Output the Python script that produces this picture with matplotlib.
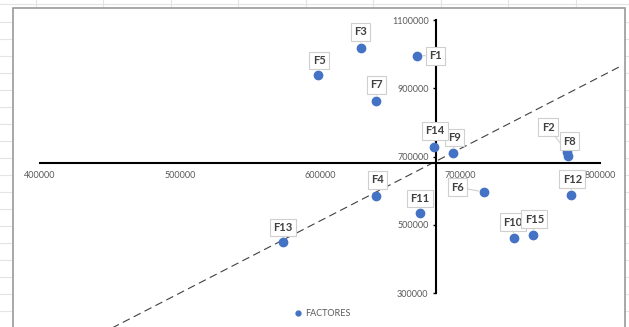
import matplotlib.pyplot as plt
from matplotlib.lines import Line2D
from matplotlib.patches import Rectangle
from matplotlib.ticker import FormatStrFormatter

plt.rcParams['font.family'] = ['Lato', 'DejaVu Sans']

# factor coordinates
factores = ['F1', 'F2', 'F3', 'F4', 'F5', 'F6', 'F7', 'F8',
            'F9', 'F10', 'F11', 'F12', 'F13', 'F14', 'F15']
x_vals = [669500, 776500, 629000, 640200, 598600, 717400, 640200, 777400,
          695200, 738600, 671200, 779500, 573300, 681600, 752400]
y_vals = [995500, 713500, 1018900, 585500, 938000, 596300, 863700, 701800,
          709700, 461600, 534000, 587600, 449000, 729000, 470400]

# where the two axes cross
x_cross = 683000
y_cross = 681000

# dashed reference line
line_x = [440000, 815000]
line_y = [174400, 965300]

# label offsets (pixels) from each point
offsets = {'F1': (18, 0), 'F2': (-19, 25), 'F3': (0, 16), 'F4': (1, 16),
           'F5': (1, 15), 'F6': (-27, 5), 'F7': (0, 16), 'F8': (1, 15),
           'F9': (1, 16), 'F10': (-1, 16), 'F11': (0, 15), 'F12': (1, 16),
           'F13': (0, 15), 'F14': (1, 16), 'F15': (1, 16)}

W, H = 629, 327
fig = plt.figure(figsize=(W / 100, H / 100), dpi=100)

# sheet grid behind the chart
grid_kw = dict(color='#e4e4e4', lw=0.8, zorder=-2)
for gx in [36, 103, 171, 238, 306, 373, 441, 508, 576]:
    fig.add_artist(Line2D([gx / W, gx / W], [1 - 8 / H, 1], **grid_kw))
fig.add_artist(Line2D([0, 1], [1 - 4 / H, 1 - 4 / H], **grid_kw))
for gy in range(22, 330, 17):
    fig.add_artist(Line2D([0, 13 / W], [1 - gy / H, 1 - gy / H], **grid_kw))
    fig.add_artist(Line2D([625 / W, 1], [1 - gy / H, 1 - gy / H], **grid_kw))

# chart area
fig.add_artist(Rectangle((13 / W, -0.05), (625 - 13) / W, 1.05 - 8 / H,
                         transform=fig.transFigure, fc='white', ec='#9a9a9a',
                         lw=1.2, zorder=-1))

ax = fig.add_axes([40 / W, (H - 293.3) / H, 560 / W, 273.3 / H])
ax.set_facecolor('none')
ax.set_xlim(400000, 800000)
ax.set_ylim(300000, 1100000)

for s in ['top', 'right']:
    ax.spines[s].set_visible(False)
ax.spines['left'].set_position(('data', x_cross))
ax.spines['bottom'].set_position(('data', y_cross))
for s in ['left', 'bottom']:
    ax.spines[s].set_color('black')
    ax.spines[s].set_linewidth(1.5)

ax.set_xticks(range(400000, 800001, 100000))
ax.set_yticks(range(300000, 1100001, 200000))
ax.xaxis.set_major_formatter(FormatStrFormatter('%d'))
ax.yaxis.set_major_formatter(FormatStrFormatter('%d'))
ax.tick_params(axis='x', length=0, pad=6, labelsize=6.5, labelcolor='#595959')
ax.tick_params(axis='y', length=2.5, width=1, pad=3, labelsize=6.5, labelcolor='#595959')

ax.plot(line_x, line_y, ls=(0, (7, 4)), color='#404040', lw=0.8, clip_on=False, zorder=2)

ax.scatter(x_vals, y_vals, s=36, color='#4472C4', zorder=3, clip_on=False)

for name, x, y in zip(factores, x_vals, y_vals):
    dx, dy = offsets[name]
    ax.annotate(name, (x, y), xytext=(dx, dy), textcoords='offset pixels',
                ha='center', va='center', fontsize=8, fontweight='bold',
                color='#404040', zorder=4,
                bbox=dict(boxstyle='square,pad=0.3', fc='white', ec='#cfcfcf', lw=0.8),
                arrowprops=dict(arrowstyle='-', color='#cfcfcf', lw=0.8,
                                shrinkA=0, shrinkB=4))

handle = Line2D([], [], marker='o', ls='', color='#4472C4', markersize=3.5)
fig.legend([handle], ['FACTORES'], loc='center', frameon=False,
           bbox_to_anchor=(322 / W, 1 - 314 / H), fontsize=6.5,
           labelcolor='#595959', handletextpad=0.2, handlelength=1)

fig.savefig('out.png', dpi=100)
